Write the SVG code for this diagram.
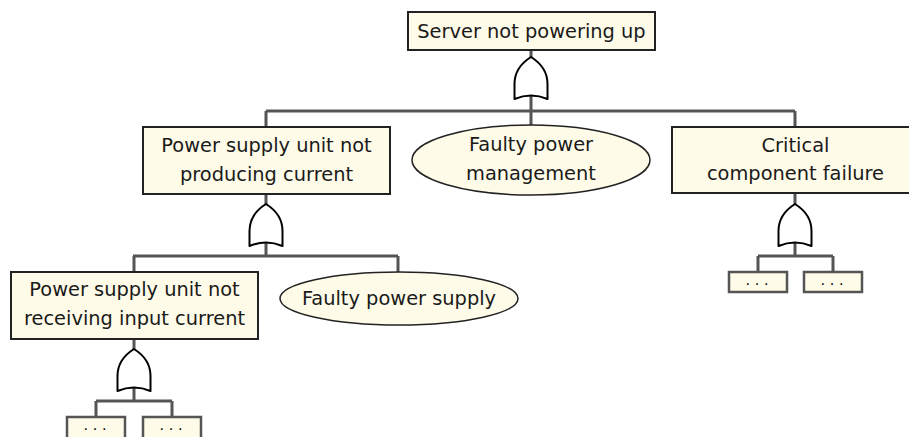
<svg xmlns="http://www.w3.org/2000/svg" width="909" height="437" viewBox="0 0 909 437">
  <defs>
    <style>
      .box { fill: #fefbe8; stroke: #222; stroke-width: 2; }
      .leaf { fill: #fefbe8; stroke: #555; stroke-width: 2.5; }
      .ev { fill: #fefbe8; stroke: #222; stroke-width: 1.5; }
      .wire { fill: none; stroke: #555; stroke-width: 3; }
      .gate { fill: #fff; stroke: #000; stroke-width: 2; stroke-linejoin: round; }
      text { font-family: "DejaVu Sans", sans-serif; font-size: 19.4px; fill: #1a1a1a; text-anchor: middle; }
      .dots { font-size: 14.5px; fill: #000; }
    </style>
    <!-- OR gate, origin at its top tip, 42 tall -->
    <path id="or" d="M0,0 C-8,5 -16.5,14 -16.5,27 L-16.5,42 Q0,35 16.5,42 L16.5,27 C16.5,14 8,5 0,0 Z"/>
  </defs>

  <g id="connectors">
    <path class="wire" d="M531,50 V111 M266,111 H795 M266,111 V127 M531,111 V125 M795,111 V127"/>
    <path class="wire" d="M266,194 V256 M133,256 H398 M134,256 V272 M398,256 V272"/>
    <path class="wire" d="M795,193 V256 M758,256 H833 M758,256 V272 M833,256 V272"/>
    <path class="wire" d="M134,339 V401 M96,401 H172 M96,401 V417 M172,401 V417"/>
  </g>

  <g id="gates">
    <use href="#or" class="gate" x="531" y="57"/>
    <use href="#or" class="gate" x="266" y="204"/>
    <use href="#or" class="gate" x="795" y="204"/>
    <use href="#or" class="gate" x="134" y="349"/>
  </g>

  <g id="server-not-powering-up">
    <rect class="box" x="408" y="12" width="247" height="38"/>
    <text x="531.5" y="37.5">Server not powering up</text>
  </g>

  <g id="psu-not-producing">
    <rect class="box" x="143" y="127" width="247" height="67"/>
    <text x="266.5" y="152">Power supply unit not</text>
    <text x="266.5" y="181">producing current</text>
  </g>

  <g id="faulty-power-management">
    <ellipse class="ev" cx="531" cy="160" rx="119" ry="35"/>
    <text x="531" y="151">Faulty power</text>
    <text x="531" y="180">management</text>
  </g>

  <g id="critical-component-failure">
    <rect class="box" x="672" y="127" width="247" height="66"/>
    <text x="795.5" y="152">Critical</text>
    <text x="795.5" y="180">component failure</text>
  </g>

  <g id="leaf-critical-1">
    <rect class="leaf" x="729" y="272" width="58" height="20"/>
    <text class="dots" x="757" y="284.5">. . .</text>
  </g>
  <g id="leaf-critical-2">
    <rect class="leaf" x="804" y="272" width="58" height="20"/>
    <text class="dots" x="832" y="284.5">. . .</text>
  </g>

  <g id="psu-no-input">
    <rect class="box" x="11" y="272" width="247" height="67"/>
    <text x="134.5" y="296">Power supply unit not</text>
    <text x="134.5" y="325">receiving input current</text>
  </g>

  <g id="faulty-power-supply">
    <ellipse class="ev" cx="399" cy="298.5" rx="119" ry="26.5"/>
    <text x="399" y="305">Faulty power supply</text>
  </g>

  <g id="leaf-input-1">
    <rect class="leaf" x="67" y="417" width="58" height="22"/>
    <text class="dots" x="95" y="429.5">. . .</text>
  </g>
  <g id="leaf-input-2">
    <rect class="leaf" x="143" y="417" width="58" height="22"/>
    <text class="dots" x="171" y="429.5">. . .</text>
  </g>
</svg>
